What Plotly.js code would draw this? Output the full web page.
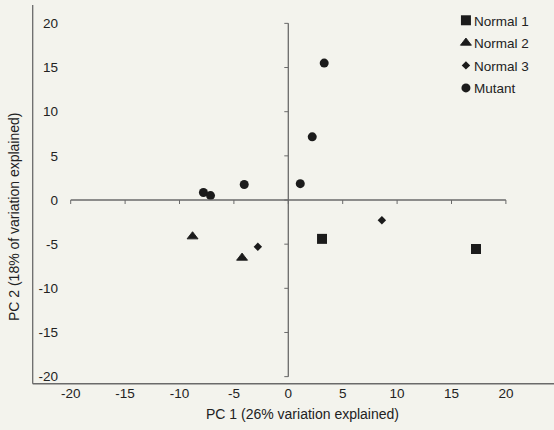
<!DOCTYPE html>
<html>
<head>
<meta charset="utf-8">
<script src="https://cdn.plot.ly/plotly-3.0.1.min.js"></script>
<style>html,body{margin:0;padding:0;background:#f3f3ed;}</style>
</head>
<body>
<div id="chart" style="width:554px;height:430px;"></div>
<script>
// ---- data ----
const xTicks = [-20, -15, -10, -5, 0, 5, 10, 15, 20];
const yTicks = [-20, -15, -10, -5, 0, 5, 10, 15, 20];
const seriesNames = ['Normal 1', 'Normal 2', 'Normal 3', 'Mutant'];
const normal1X = [3.1, 17.25];
const normal1Y = [-4.4, -5.55];
const normal2X = [-8.8, -4.25];
const normal2Y = [-4.13, -6.55];
const normal3X = [-2.8, 8.6];
const normal3Y = [-5.3, -2.3];
const mutantX = [3.3, 2.2, 1.1, -4.05, -7.8, -7.15];
const mutantY = [15.5, 7.15, 1.85, 1.75, 0.85, 0.5];
const xTitle = 'PC 1 (26% variation explained)';
const yTitle = 'PC 2 (18% of variation explained)';

// ---- styling ----
const FONT = 'Arial, "Liberation Sans", sans-serif';
const TXT = '#222222';
const MK = '#1b1b1b';
const LINE = '#6a6a6a';

const traces = [
  {x: normal1X, y: normal1Y, name: seriesNames[0], symbol: 'square', size: 10, lw: 0},
  {x: normal2X, y: normal2Y, name: seriesNames[1], symbol: 'triangle-up', size: 9.5, lw: 0.9},
  {x: normal3X, y: normal3Y, name: seriesNames[2], symbol: 'diamond', size: 6.5, lw: 0},
  {x: mutantX, y: mutantY, name: seriesNames[3], symbol: 'circle', size: 9, lw: 0}
].map((t, i) => ({
  type: 'scatter', mode: 'markers', x: t.x, y: t.y, name: t.name,
  legendgroup: 'g' + i,
  marker: {symbol: t.symbol, size: t.size, color: MK, line: {width: t.lw, color: MK}},
  hoverinfo: 'x+y+name'
}));

const shapes = [];
// zero-crossing axes
shapes.push({type: 'line', xref: 'x', yref: 'y', x0: xTicks[0], x1: xTicks[xTicks.length - 1], y0: 0, y1: 0,
  line: {color: LINE, width: 1.3}});
shapes.push({type: 'line', xref: 'x', yref: 'y', x0: 0, x1: 0, y0: yTicks[0], y1: yTicks[yTicks.length - 1],
  line: {color: LINE, width: 1.3}});
// tick marks
xTicks.forEach(v => shapes.push({type: 'line', xref: 'x', yref: 'y', ysizemode: 'pixel', yanchor: 0,
  x0: v, x1: v, y0: 0, y1: -4, line: {color: LINE, width: 1}}));
yTicks.forEach(v => shapes.push({type: 'line', xref: 'x', yref: 'y', xsizemode: 'pixel', xanchor: 0,
  x0: 0, x1: -4, y0: v, y1: v, line: {color: LINE, width: 1}}));
// outer frame (left and bottom)
shapes.push({type: 'line', xref: 'paper', yref: 'paper', x0: -0.0603, x1: -0.0603, y0: -0.002, y1: 1.0,
  line: {color: LINE, width: 1.3}});
shapes.push({type: 'line', xref: 'paper', yref: 'paper', x0: -0.0603, x1: 1.02, y0: -0.002, y1: -0.002,
  line: {color: LINE, width: 1.3}});

const layout = {
  width: 554, height: 430,
  margin: {l: 62, r: 6, t: 5, b: 47},
  paper_bgcolor: '#f3f3ed', plot_bgcolor: '#f3f3ed',
  font: {family: FONT, size: 13.5, color: TXT},
  showlegend: true,
  legend: {x: 0.79, y: 1.0, xanchor: 'left', yanchor: 'top', bgcolor: 'rgba(0,0,0,0)',
    borderwidth: 0, font: {family: FONT, size: 13.5, color: TXT}, tracegroupgap: 2,
    traceorder: 'grouped', itemclick: false, itemdoubleclick: false},
  xaxis: {range: [-20.80, 23.87], tickvals: xTicks, ticktext: xTicks.map(String),
    showgrid: false, zeroline: false, showline: false, ticks: '',
    tickfont: {family: FONT, size: 13.5, color: TXT}, fixedrange: true},
  yaxis: {range: [-20.72, 22.08], tickvals: yTicks, ticktext: yTicks.map(String),
    showgrid: false, zeroline: false, showline: false, ticks: '', ticklabelstandoff: 3,
    tickfont: {family: FONT, size: 13.5, color: TXT}, fixedrange: true},
  shapes: shapes,
  annotations: [
    {text: xTitle, xref: 'paper', yref: 'paper', x: 0.494, y: -0.082, xanchor: 'center', yanchor: 'middle',
      showarrow: false, font: {family: FONT, size: 14, color: TXT}},
    {text: yTitle, xref: 'paper', yref: 'paper', x: -0.1, y: 0.44, xanchor: 'center', yanchor: 'middle',
      textangle: -90, showarrow: false, font: {family: FONT, size: 14, color: TXT}}
  ]
};

Plotly.newPlot('chart', traces, layout, {displayModeBar: false}).then(gd => {
  gd.querySelectorAll('.legend .legendtext').forEach(t => t.setAttribute('x', 28));
});
</script>
</body>
</html>
